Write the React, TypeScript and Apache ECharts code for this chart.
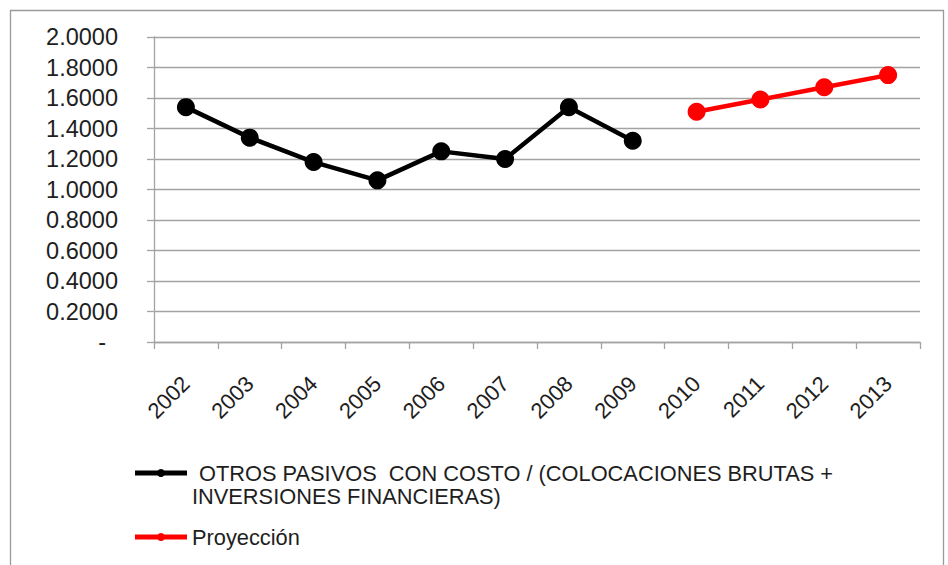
import React, { useEffect, useRef } from "react";
import * as echarts from "echarts";

const categories = ["2002", "2003", "2004", "2005", "2006", "2007", "2008", "2009", "2010", "2011", "2012", "2013"];
const historico = [1.54, 1.34, 1.18, 1.06, 1.25, 1.2, 1.54, 1.32, null, null, null, null];
const proyeccion = [null, null, null, null, null, null, null, null, 1.51, 1.59, 1.67, 1.75];
const serieNames = ["OTROS PASIVOS  CON COSTO / (COLOCACIONES BRUTAS + INVERSIONES FINANCIERAS)", "Proyección"];
const legendLine1 = " OTROS PASIVOS  CON COSTO / (COLOCACIONES BRUTAS +";
const legendLine2 = "INVERSIONES FINANCIERAS)";
const legendLine3 = "Proyección";

const FONT = "'Liberation Sans', Arial, sans-serif";
const TEXT = "#1e1e1e";
const GRID = "#a3a3a3";

export default function App() {
  const ref = useRef<HTMLDivElement>(null);
  useEffect(() => {
    document.body.style.margin = "0";
    const chart = echarts.init(ref.current!, null, { renderer: "svg" });
    chart.setOption({
      animation: false,
      backgroundColor: "#ffffff",
      grid: { left: 154, right: 28, top: 37, bottom: 223, containLabel: false },
      xAxis: {
        type: "category",
        data: categories,
        boundaryGap: true,
        axisLine: { lineStyle: { color: GRID, width: 1.3 } },
        axisTick: { show: true, length: 7, lineStyle: { color: GRID, width: 1.3 } },
        axisLabel: { rotate: 45, margin: 38, fontSize: 22, color: TEXT, fontFamily: FONT },
      },
      yAxis: {
        type: "value",
        min: 0,
        max: 2,
        interval: 0.2,
        axisLine: { show: true, lineStyle: { color: GRID, width: 1.3 } },
        axisTick: { show: true, length: 7, lineStyle: { color: GRID, width: 1.3 } },
        splitLine: { lineStyle: { color: GRID, width: 1.3 } },
        axisLabel: {
          margin: 36,
          fontSize: 23.5,
          color: TEXT,
          fontFamily: FONT,
          formatter: (v: number) => (Math.abs(v) < 1e-9 ? "{dash|-}" : v.toFixed(4)),
          rich: { dash: { fontSize: 23.5, color: TEXT, fontFamily: FONT, padding: [0, 12, 0, 0] } },
        },
      },
      legend: { show: false },
      series: [
        {
          name: serieNames[0],
          type: "line",
          data: historico,
          connectNulls: false,
          symbol: "circle",
          symbolSize: 18,
          lineStyle: { color: "#000000", width: 4.5 },
          itemStyle: { color: "#000000" },
        },
        {
          name: serieNames[1],
          type: "line",
          data: proyeccion,
          connectNulls: false,
          symbol: "circle",
          symbolSize: 18,
          lineStyle: { color: "#ff0000", width: 4.5 },
          itemStyle: { color: "#ff0000" },
        },
      ],
      graphic: [
        {
          type: "rect",
          silent: true,
          shape: { x: 10.5, y: 10.5, width: 933, height: 600 },
          style: { fill: "none", stroke: "#9a9a9a", lineWidth: 1.3 },
        },
        { type: "line", shape: { x1: 135, y1: 473, x2: 187, y2: 473 }, style: { stroke: "#000", lineWidth: 5 } },
        { type: "circle", shape: { cx: 161, cy: 473, r: 4 }, style: { fill: "#000" } },
        {
          type: "text",
          x: 193,
          y: 473,
          style: { text: legendLine1, fontSize: 21.8, fontFamily: FONT, fill: TEXT, verticalAlign: "middle" },
        },
        {
          type: "text",
          x: 192,
          y: 496,
          style: { text: legendLine2, fontSize: 21.8, fontFamily: FONT, fill: TEXT, verticalAlign: "middle" },
        },
        { type: "line", shape: { x1: 135, y1: 537, x2: 187, y2: 537 }, style: { stroke: "#ff0000", lineWidth: 5 } },
        { type: "circle", shape: { cx: 161, cy: 537, r: 4 }, style: { fill: "#ff0000" } },
        {
          type: "text",
          x: 192,
          y: 537,
          style: { text: legendLine3, fontSize: 21.8, fontFamily: FONT, fill: TEXT, verticalAlign: "middle" },
        },
      ],
    });
    return () => chart.dispose();
  }, []);
  return <div ref={ref} style={{ width: 948, height: 565 }} />;
}
